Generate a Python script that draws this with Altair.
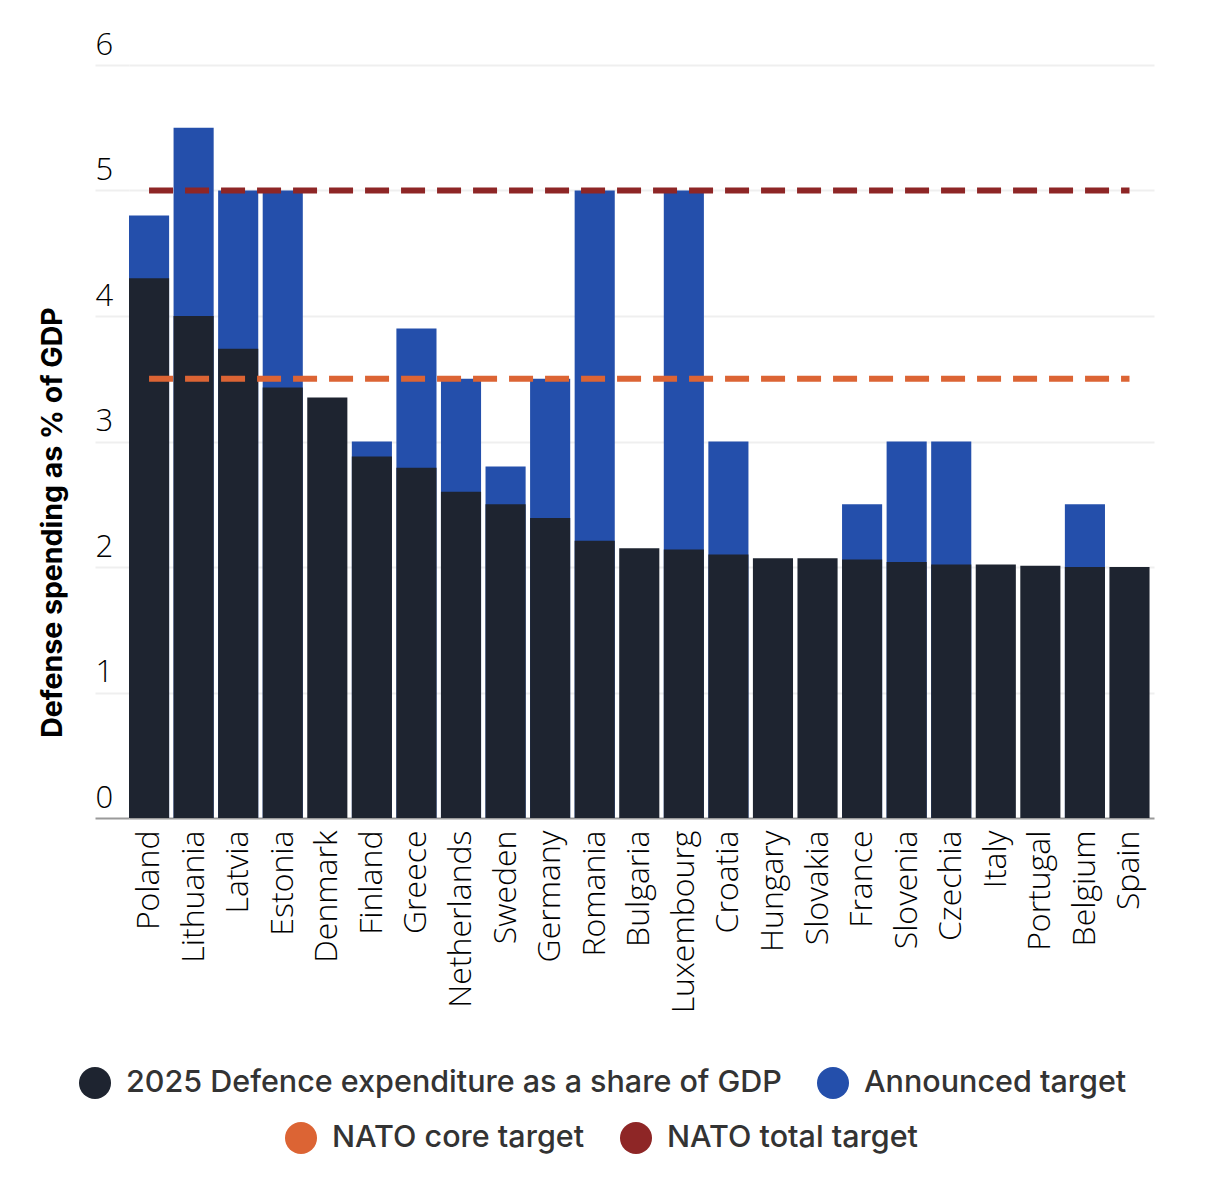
import altair as alt
import pandas as pd

countries = ["Poland", "Lithuania", "Latvia", "Estonia", "Denmark", "Finland", "Greece",
             "Netherlands", "Sweden", "Germany", "Romania", "Bulgaria", "Luxembourg", "Croatia",
             "Hungary", "Slovakia", "France", "Slovenia", "Czechia", "Italy", "Portugal",
             "Belgium", "Spain"]
spending_2025 = [4.30, 4.00, 3.74, 3.43, 3.35, 2.88, 2.79, 2.60, 2.50, 2.39, 2.21, 2.15,
                 2.14, 2.10, 2.07, 2.07, 2.06, 2.04, 2.02, 2.02, 2.01, 2.00, 2.00]
announced_target = [4.8, 5.5, 5.0, 5.0, None, 3.0, 3.9, 3.5, 2.8, 3.5, 5.0, None,
                    5.0, 3.0, None, None, 2.5, 3.0, 3.0, None, None, 2.5, None]
series_names = ["2025 Defence expenditure as a share of GDP", "Announced target"]
nato_names = ["NATO core target", "NATO total target"]
nato_values = [3.5, 5.0]
y_ticks = [0, 1, 2, 3, 4, 5, 6]

BAR_COLORS = ["#1e2430", "#244fab"]
NATO_COLORS = ["#dc6434", "#8e2626"]

rows = []
for c, t in zip(countries, announced_target):
    if t is not None:
        rows.append({"country": c, "series": series_names[1], "value": t})
for c, v in zip(countries, spending_2025):
    rows.append({"country": c, "series": series_names[0], "value": v})
bars_df = pd.DataFrame(rows)

line_rows = []
for n, v in zip(nato_names, nato_values):
    for c in countries:
        line_rows.append({"country": c, "name": n, "value": v})
lines_df = pd.DataFrame(line_rows)
nato_df = pd.DataFrame({"name": nato_names, "value": nato_values, "country": [countries[0]] * 2})

x_enc = alt.X("country:N", sort=countries,
              scale=alt.Scale(domain=countries, paddingInner=0.1, paddingOuter=0.05, align=0),
              axis=alt.Axis(title=None, labelAngle=-90, labelFontSize=32, labelFont="Open Sans",
                            labelFontWeight=300, labelColor="#000000", ticks=False, domain=False,
                            labelPadding=12, grid=False, labelLimit=0))
y_scale = alt.Scale(domain=[0, 6], nice=False)
y_axis = alt.Axis(values=y_ticks, format="d", tickSize=34, tickWidth=2,
                  tickColor={"condition": {"test": "datum.value === 0", "value": "#9a9a9a"}, "value": "#efefef"},
                  gridColor={"condition": {"test": "datum.value === 0", "value": "#9a9a9a"}, "value": "#efefef"},
                  gridWidth=2, domain=False, labelAlign="left", labelBaseline="alphabetic",
                  labelPadding=0, labelOffset=-11, labelFontSize=31, labelFont="Open Sans",
                  labelFontWeight=300, labelColor="#000000",
                  title="Defense spending as % of GDP", titleFontSize=28.5, titleFont="Inter",
                  titleFontWeight="bold", titleColor="#000000", titleX=-77, titleY=457,
                  titleAngle=-90, titleAlign="center", titleBaseline="middle")

legend_common = dict(orient="none", direction="horizontal", title=None,
                     symbolType="circle", symbolSize=1024, symbolStrokeWidth=0, symbolOpacity=1,
                     labelFontSize=30.5, labelFont="Inter", labelFontWeight=500, labelColor="#333333",
                     labelOffset=15, columnPadding=35, labelLimit=0, padding=0)
legend1 = alt.Legend(legendX=-50, legendY=1002, **legend_common)
legend2 = alt.Legend(legendX=156, legendY=1057, **legend_common)

bar_color = alt.Color("series:N", scale=alt.Scale(domain=series_names, range=BAR_COLORS), legend=legend1)

base_bars = alt.Chart(bars_df).mark_bar().encode(
    x=x_enc,
    y=alt.Y("value:Q", scale=y_scale, axis=y_axis, stack=None),
    color=bar_color,
)
target_bars = base_bars.transform_filter(alt.datum.series == series_names[1])
current_bars = base_bars.transform_filter(alt.datum.series == series_names[0])
bars = alt.layer(target_bars, current_bars)

line_core = alt.Chart(lines_df).transform_filter(alt.datum.name == nato_names[0]).mark_line(
    color=NATO_COLORS[0], strokeWidth=6, strokeDash=[24, 12], strokeCap="butt"
).encode(x=alt.X("country:N", sort=countries), y=alt.Y("value:Q", scale=y_scale))
line_total = alt.Chart(lines_df).transform_filter(alt.datum.name == nato_names[1]).mark_line(
    color=NATO_COLORS[1], strokeWidth=6, strokeDash=[24, 12], strokeCap="butt"
).encode(x=alt.X("country:N", sort=countries), y=alt.Y("value:Q", scale=y_scale))
nato_points = alt.Chart(nato_df).mark_circle(opacity=0).encode(
    x=alt.X("country:N", sort=countries),
    y=alt.Y("value:Q", scale=y_scale),
    color=alt.Color("name:N", scale=alt.Scale(domain=nato_names, range=NATO_COLORS), legend=legend2),
)
nato = alt.layer(line_core, line_total, nato_points)

chart = alt.layer(bars, nato).resolve_scale(color="independent").properties(
    width=1025, height=753,
    autosize=alt.AutoSizeParams(type="none"),
    padding={"left": 129, "top": 65, "right": 62, "bottom": 374},
    background="#ffffff",
).configure_view(stroke=None)

chart.save("out.html", embed_options={"renderer": "svg", "actions": False})
